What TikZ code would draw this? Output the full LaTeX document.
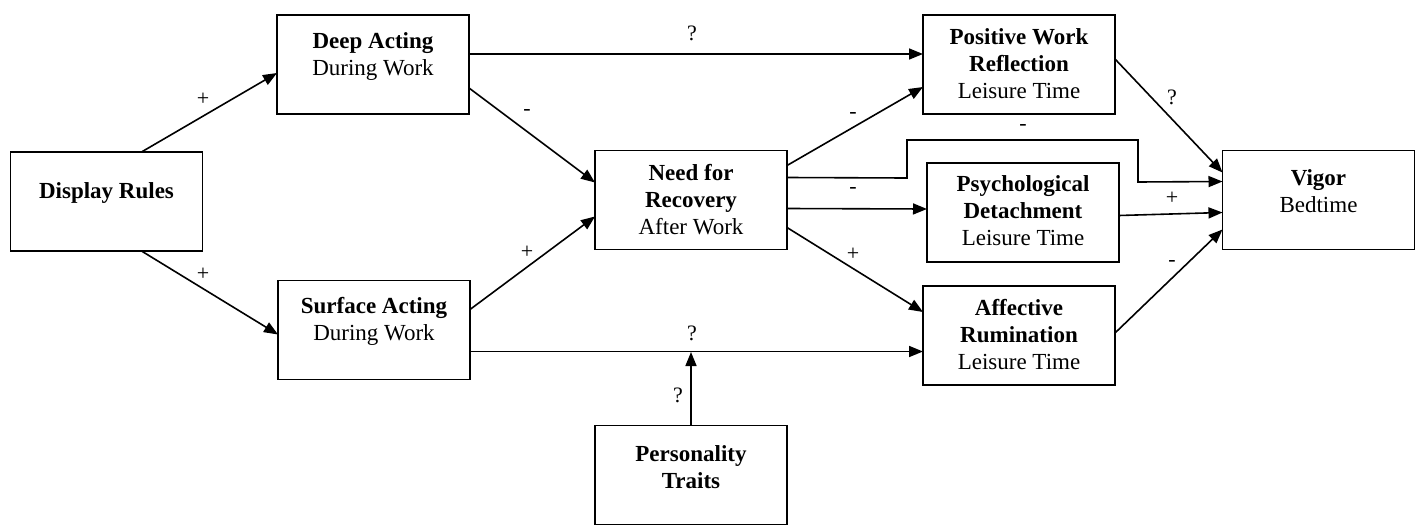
\documentclass[tikz,border=0pt]{standalone}
\usepackage{fontspec}
\setmainfont{Liberation Serif}
\usetikzlibrary{arrows.meta,calc}
\begin{document}
\begin{tikzpicture}[x=1pt,y=-1pt,
  box/.style={draw,line width=1.8pt,minimum width=192pt,minimum height=99pt,inner sep=0pt,outer sep=0pt},
  txt/.style={align=center,font=\fontsize{23}{27}\selectfont,inner sep=0pt},
  lbl/.style={font=\fontsize{22}{24}\selectfont,inner sep=0pt},
  conn/.style={line width=1.6pt,-{Triangle[length=14pt,width=11pt]}}]
\useasboundingbox (0,0) rectangle (1422,525);
% boxes
\node[box] (dr)  at (106.5,201.5) {};
\node[box] (da)  at (373,64.5) {};
\node[box] (sa)  at (374,330) {};
\node[box] (nfr) at (691,200) {};
\node[box] (pt)  at (691,475) {};
\node[box] (pwr) at (1019,64.5) {};
\node[box] (pd)  at (1023,212.5) {};
\node[box] (ar)  at (1019,335.5) {};
\node[box] (vig) at (1318.5,200) {};
% texts
\node[txt] (drt)  at (106.5,193) {\textbf{Display Rules}};
\node[txt] (dat)  at (373,56.5) {\textbf{Deep Acting}\\During Work};
\node[txt] (sat)  at (374,321.5) {\textbf{Surface Acting}\\During Work};
\node[txt] (nfrt) at (691,200) {\textbf{Need for}\\\textbf{Recovery}\\After Work};
\node[txt] (ptt)  at (691,467) {\textbf{Personality}\\\textbf{Traits}};
\node[txt] (pwrt) at (1019,64) {\textbf{Positive Work}\\\textbf{Reflection}\\Leisure Time};
\node[txt] (pdt)  at (1023,211) {\textbf{Psychological}\\\textbf{Detachment}\\Leisure Time};
\node[txt] (art)  at (1019,334.5) {\textbf{Affective}\\\textbf{Rumination}\\Leisure Time};
\node[txt] (vigt) at (1318.5,191) {\textbf{Vigor}\\Bedtime};
% connectors
\draw[conn] ($(dr.north west)+(131,0)$) -- ($(da.north west)+(0,58)$);
\draw[conn] ($(dr.south west)+(131,0)$) -- ($(sa.north west)+(0,54)$);
\draw[conn] ($(da.north east)+(0,39)$) -- ($(pwr.north west)+(0,39)$);
\draw[conn] ($(da.north east)+(0,73)$) -- ($(nfr.north west)+(0,32)$);
\draw[conn] ($(sa.north east)+(0,29)$) -- ($(nfr.north west)+(0,66)$);
\draw[conn] ($(sa.north east)+(0,71)$) -- ($(ar.north west)+(0,65.5)$);
\coordinate (mod) at (691,352);
\draw[conn] (pt.north) -- (mod);
\draw[conn] ($(nfr.north east)+(0,15)$) -- ($(pwr.north west)+(0,72)$);
\draw[conn] ($(nfr.north east)+(0,27)$) -- (907,178) -- (907,140) -- (1138,140) -- (1138,182) -- ($(vig.north west)+(0,31)$);
\draw[conn] ($(nfr.north east)+(0,58)$) -- ($(pd.north west)+(0,46)$);
\draw[conn] ($(nfr.north east)+(0,77)$) -- ($(ar.north west)+(0,26)$);
\draw[conn] ($(pwr.north east)+(0,44)$) -- ($(vig.north west)+(0,22)$);
\draw[conn] ($(pd.north east)+(0,52.5)$) -- ($(vig.north west)+(0,62)$);
\draw[conn] ($(ar.north east)+(0,47)$) -- ($(vig.north west)+(0,79)$);
% labels
\node[lbl] (l1)  at (203,99) {+};
\node[lbl] (l2)  at (203,274) {+};
\node[lbl] (l3)  at (692,33) {?};
\node[lbl] (l4)  at (527,112) {-};
\node[lbl] (l5)  at (527,252) {+};
\node[lbl] (l6)  at (692,333) {?};
\node[lbl] (l7)  at (678,395) {?};
\node[lbl] (l8)  at (853,115) {-};
\node[lbl] (l9)  at (1023,127) {-};
\node[lbl] (l10) at (853,190) {-};
\node[lbl] (l11) at (853,254) {+};
\node[lbl] (l12) at (1172,97) {?};
\node[lbl] (l13) at (1172,198) {+};
\node[lbl] (l14) at (1172,263) {-};
\end{tikzpicture}
\end{document}
